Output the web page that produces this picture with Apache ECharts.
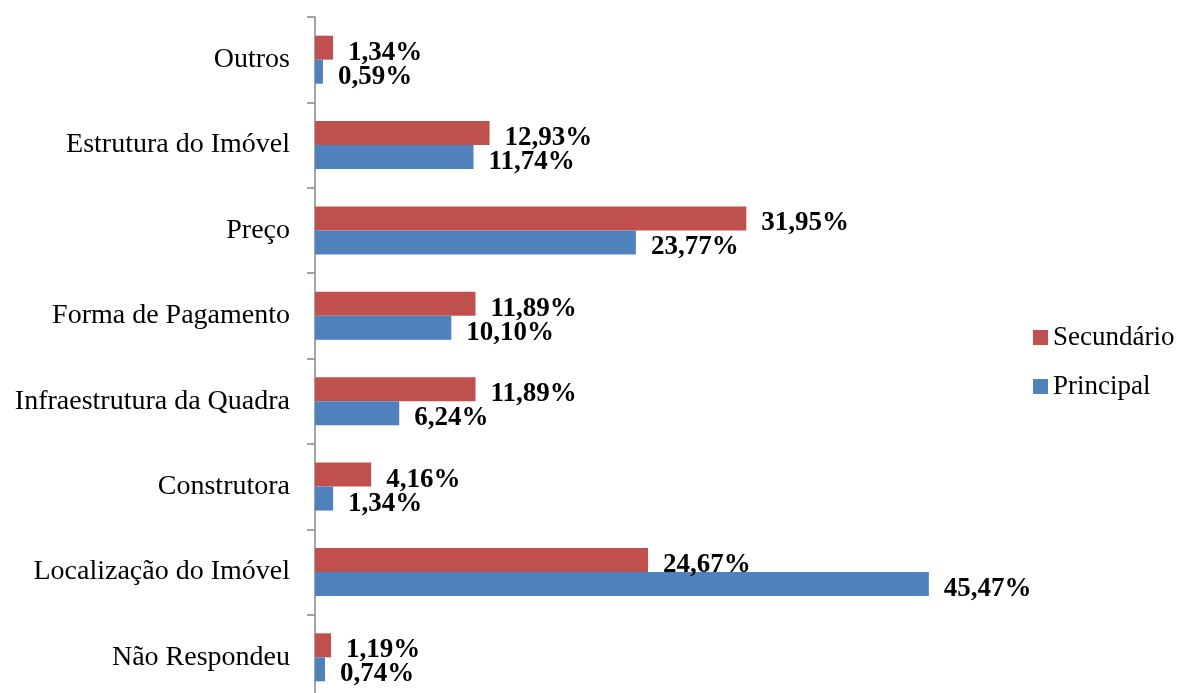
<!DOCTYPE html>
<html>
<head>
<meta charset="utf-8">
<script src="https://cdn.jsdelivr.net/npm/echarts@6/dist/echarts.min.js"></script>
<style>
html, body { margin: 0; padding: 0; background: #fff; overflow: hidden; }
#chart { width: 1185px; height: 700px; }
</style>
</head>
<body>
<div id="chart"></div>
<script>
// Categories listed bottom to top (category axis runs upward)
const categories = [
  'Não Respondeu',
  'Localização do Imóvel',
  'Construtora',
  'Infraestrutura da Quadra',
  'Forma de Pagamento',
  'Preço',
  'Estrutura do Imóvel',
  'Outros'
];
const principal = [0.74, 45.47, 1.34, 6.24, 10.10, 23.77, 11.74, 0.59];
const secundario = [1.19, 24.67, 4.16, 11.89, 11.89, 31.95, 12.93, 1.34];

const serif = '"Liberation Serif", "DejaVu Serif", serif';
const fmt = p => p.value.toFixed(2).replace('.', ',') + '%';

const labelStyle = {
  show: true,
  position: 'right',
  distance: 15,
  offset: [0, 5],
  formatter: fmt,
  fontFamily: serif,
  fontWeight: 'bold',
  fontSize: 27,
  color: '#000'
};

const chart = echarts.init(document.getElementById('chart'));
chart.setOption({
  animation: false,
  grid: { left: 315, top: 17, width: 675, height: 683 },
  legend: {
    data: ['Secundário', 'Principal'],
    orient: 'vertical',
    left: 1028,
    top: 319,
    itemWidth: 15,
    itemHeight: 15,
    itemGap: 22,
    icon: 'rect',
    textStyle: { fontFamily: serif, fontSize: 27, color: '#000' }
  },
  xAxis: {
    type: 'value',
    min: 0,
    max: 50,
    show: false
  },
  yAxis: {
    type: 'category',
    data: categories,
    axisLine: { lineStyle: { color: '#868686', width: 1.5 } },
    axisTick: { show: true, length: 8, inside: false, lineStyle: { color: '#868686', width: 1.5 } },
    axisLabel: { margin: 25, fontFamily: serif, fontSize: 28, color: '#000', padding: [13, 0, 0, 0] }
  },
  series: [
    {
      name: 'Secundário',
      type: 'bar',
      data: secundario,
      barWidth: 24,
      barGap: '0%',
      itemStyle: { color: '#C0504D' },
      label: labelStyle
    },
    {
      name: 'Principal',
      type: 'bar',
      data: principal,
      barWidth: 24,
      barGap: '0%',
      itemStyle: { color: '#4F81BD' },
      label: labelStyle
    }
  ]
});
</script>
</body>
</html>
